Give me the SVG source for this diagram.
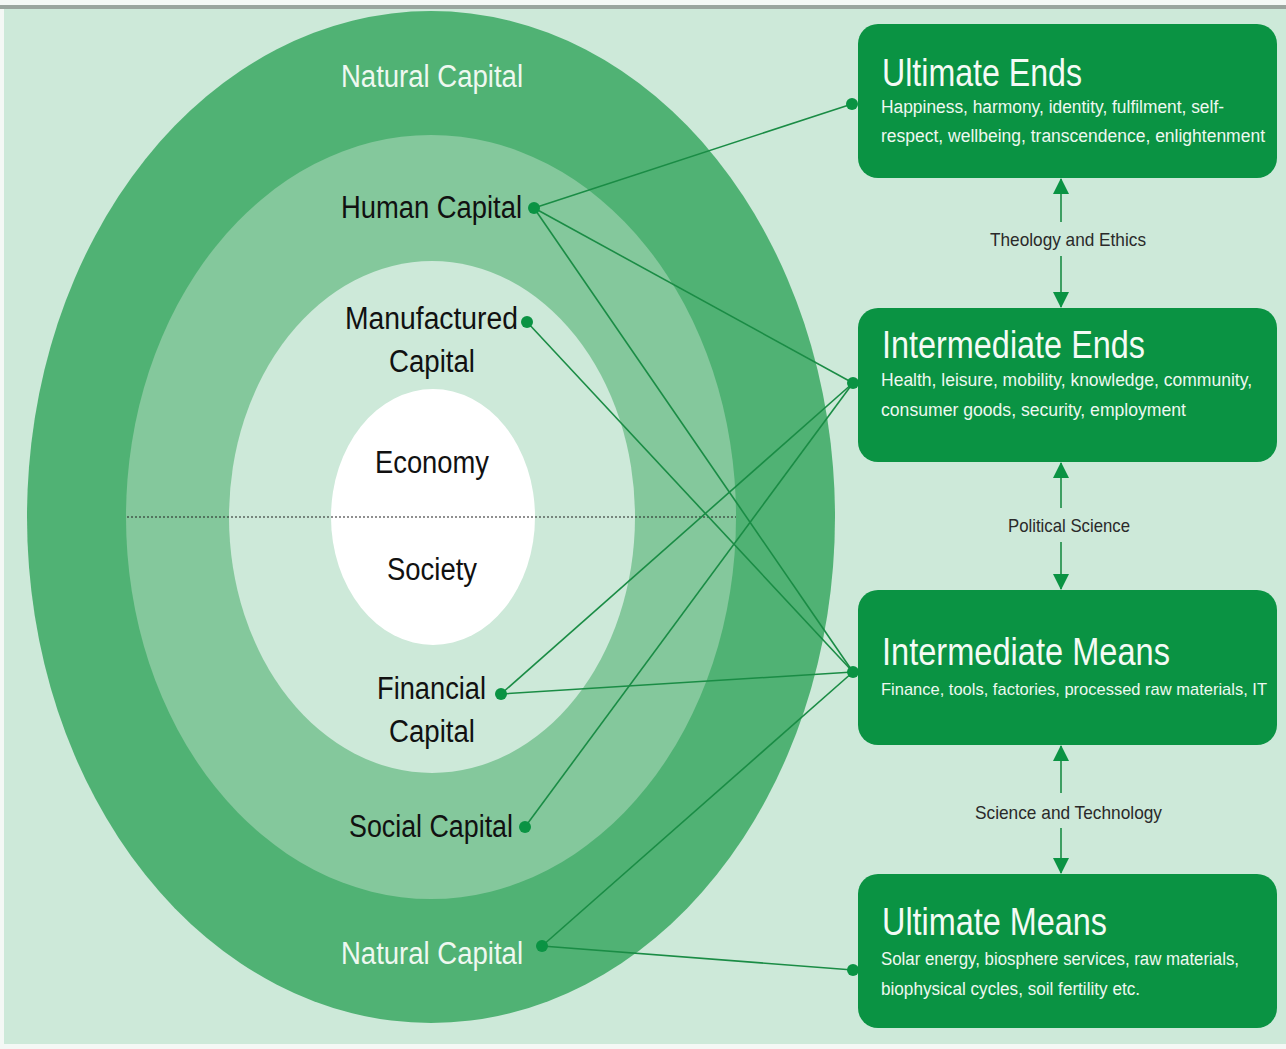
<svg xmlns="http://www.w3.org/2000/svg" width="1286" height="1049" viewBox="0 0 1286 1049">
  <defs>
    <style>
      .bg { fill: #cde9d9; }
      .ring-outer { fill: #50b274; }
      .ring-mid { fill: #84c89c; }
      .ring-inner { fill: #cde9d9; }
      .core { fill: #ffffff; }
      .box { fill: #0a9343; }
      .lbl { font-family: "Liberation Sans", Arial, sans-serif; font-size: 31px; fill: #111; }
      .lbl-w { font-family: "Liberation Sans", Arial, sans-serif; font-size: 31px; fill: #eef8f0; }
      .title { font-family: "Liberation Sans", Arial, sans-serif; font-size: 38px; fill: #f4fbf5; }
      .sub { font-family: "Liberation Sans", Arial, sans-serif; font-size: 18px; fill: #eef8f0; }
      .sub-tight { font-size: 17px; }
      .disc { font-family: "Liberation Sans", Arial, sans-serif; font-size: 19px; fill: #2a2a2a; }
      .link { stroke: #1a8c45; stroke-width: 1.6; fill: none; }
      .axis { stroke: #1a8c45; stroke-width: 1.6; fill: none; }
      .dot { fill: #0a9343; }
    </style>
    <marker id="head" viewBox="0 0 16 16" refX="15" refY="8" markerWidth="16" markerHeight="16" markerUnits="userSpaceOnUse" orient="auto">
      <path d="M0,0 L16,8 L0,16 Z" fill="#0a9343"/>
    </marker>
  </defs>

  <!-- page frame -->
  <rect x="0" y="0" width="1286" height="1049" fill="#f4f8f5"/>
  <rect x="0" y="5" width="1286" height="4" fill="#9aa59e"/>
  <rect class="bg" x="4" y="9" width="1282" height="1035"/>

  <!-- nested capital rings -->
  <g id="capital-rings">
    <ellipse class="ring-outer" cx="431" cy="517" rx="404" ry="506"/>
    <ellipse class="ring-mid" cx="431" cy="517" rx="305" ry="382"/>
    <ellipse class="ring-inner" cx="432" cy="517" rx="203" ry="256"/>
    <ellipse class="core" cx="433" cy="517" rx="102" ry="128"/>
    <line x1="127" y1="517" x2="736" y2="517" stroke="#222" stroke-width="1.2" stroke-dasharray="2 2"/>
  </g>

  <!-- connectors -->
  <g id="connectors">
    <line class="link" x1="534" y1="208" x2="852" y2="104"/>
    <line class="link" x1="534" y1="208" x2="853" y2="383"/>
    <line class="link" x1="534" y1="208" x2="853" y2="672"/>
    <line class="link" x1="527" y1="322" x2="853" y2="672"/>
    <line class="link" x1="501" y1="694" x2="853" y2="383"/>
    <line class="link" x1="501" y1="694" x2="853" y2="672"/>
    <line class="link" x1="525" y1="827" x2="853" y2="383"/>
    <line class="link" x1="542" y1="946" x2="853" y2="672"/>
    <line class="link" x1="542" y1="946" x2="853" y2="970"/>

    <!-- discipline arrows between boxes -->
    <line class="axis" x1="1061" y1="222" x2="1061" y2="179" marker-end="url(#head)"/>
    <line class="axis" x1="1061" y1="256" x2="1061" y2="307" marker-end="url(#head)"/>
    <line class="axis" x1="1061" y1="508" x2="1061" y2="463" marker-end="url(#head)"/>
    <line class="axis" x1="1061" y1="542" x2="1061" y2="589" marker-end="url(#head)"/>
    <line class="axis" x1="1061" y1="793" x2="1061" y2="746" marker-end="url(#head)"/>
    <line class="axis" x1="1061" y1="828" x2="1061" y2="873" marker-end="url(#head)"/>
  </g>

  <!-- ring labels -->
  <g id="natural-capital-top">
    <text class="lbl-w" x="341" y="87" textLength="182" lengthAdjust="spacingAndGlyphs">Natural Capital</text>
  </g>
  <g id="human-capital">
    <text class="lbl" x="341" y="218" textLength="181" lengthAdjust="spacingAndGlyphs">Human Capital</text>
    <circle class="dot" cx="534" cy="208" r="6"/>
  </g>
  <g id="manufactured-capital">
    <text class="lbl" x="345" y="329" textLength="173" lengthAdjust="spacingAndGlyphs">Manufactured</text>
    <text class="lbl" x="389" y="372" textLength="86" lengthAdjust="spacingAndGlyphs">Capital</text>
    <circle class="dot" cx="527" cy="322" r="6"/>
  </g>
  <g id="economy">
    <text class="lbl" x="375" y="473" textLength="114" lengthAdjust="spacingAndGlyphs">Economy</text>
  </g>
  <g id="society">
    <text class="lbl" x="387" y="580" textLength="90" lengthAdjust="spacingAndGlyphs">Society</text>
  </g>
  <g id="financial-capital">
    <text class="lbl" x="377" y="699" textLength="109" lengthAdjust="spacingAndGlyphs">Financial</text>
    <text class="lbl" x="389" y="742" textLength="86" lengthAdjust="spacingAndGlyphs">Capital</text>
    <circle class="dot" cx="501" cy="694" r="6"/>
  </g>
  <g id="social-capital">
    <text class="lbl" x="349" y="837" textLength="164" lengthAdjust="spacingAndGlyphs">Social Capital</text>
    <circle class="dot" cx="525" cy="827" r="6"/>
  </g>
  <g id="natural-capital-bottom">
    <text class="lbl-w" x="341" y="964" textLength="182" lengthAdjust="spacingAndGlyphs">Natural Capital</text>
    <circle class="dot" cx="542" cy="946" r="6"/>
  </g>

  <!-- ends / means boxes -->
  <g id="ultimate-ends">
    <rect class="box" x="858" y="24" width="419" height="154" rx="20"/>
    <circle class="dot" cx="852" cy="104" r="6"/>
    <text class="title" x="882" y="86" textLength="200" lengthAdjust="spacingAndGlyphs">Ultimate Ends</text>
    <text class="sub" x="881" y="113" textLength="343" lengthAdjust="spacingAndGlyphs">Happiness, harmony, identity, fulfilment, self-</text>
    <text class="sub" x="881" y="142" textLength="384" lengthAdjust="spacingAndGlyphs">respect, wellbeing, transcendence, enlightenment</text>
  </g>
  <g id="intermediate-ends">
    <rect class="box" x="858" y="308" width="419" height="154" rx="20"/>
    <circle class="dot" cx="853" cy="383" r="6"/>
    <text class="title" x="882" y="358" textLength="263" lengthAdjust="spacingAndGlyphs">Intermediate Ends</text>
    <text class="sub" x="881" y="386" textLength="371" lengthAdjust="spacingAndGlyphs">Health, leisure, mobility, knowledge, community,</text>
    <text class="sub" x="881" y="416" textLength="305" lengthAdjust="spacingAndGlyphs">consumer goods, security, employment</text>
  </g>
  <g id="intermediate-means">
    <rect class="box" x="858" y="590" width="419" height="155" rx="20"/>
    <circle class="dot" cx="853" cy="672" r="6"/>
    <text class="title" x="882" y="665" textLength="288" lengthAdjust="spacingAndGlyphs">Intermediate Means</text>
    <text class="sub sub-tight" x="881" y="695" textLength="386" lengthAdjust="spacingAndGlyphs">Finance, tools, factories, processed raw materials, IT</text>
  </g>
  <g id="ultimate-means">
    <rect class="box" x="858" y="874" width="419" height="154" rx="20"/>
    <circle class="dot" cx="853" cy="970" r="6"/>
    <text class="title" x="882" y="935" textLength="225" lengthAdjust="spacingAndGlyphs">Ultimate Means</text>
    <text class="sub" x="881" y="965" textLength="358" lengthAdjust="spacingAndGlyphs">Solar energy, biosphere services, raw materials,</text>
    <text class="sub" x="881" y="995" textLength="259" lengthAdjust="spacingAndGlyphs">biophysical cycles, soil fertility etc.</text>
  </g>

  <!-- discipline labels -->
  <g id="theology-ethics">
    <text class="disc" x="990" y="246" textLength="156" lengthAdjust="spacingAndGlyphs">Theology and Ethics</text>
  </g>
  <g id="political-science">
    <text class="disc" x="1008" y="532" textLength="122" lengthAdjust="spacingAndGlyphs">Political Science</text>
  </g>
  <g id="science-technology">
    <text class="disc" x="975" y="819" textLength="187" lengthAdjust="spacingAndGlyphs">Science and Technology</text>
  </g>
</svg>
